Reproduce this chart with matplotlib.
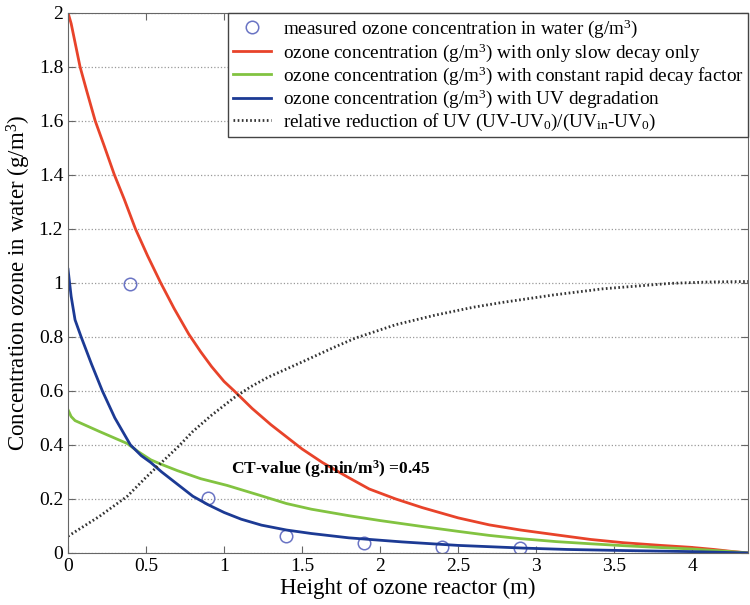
import numpy as np
import matplotlib
matplotlib.use('Agg')
import matplotlib.pyplot as plt

plt.rcParams['font.family'] = ['Liberation Serif', 'DejaVu Serif']
plt.rcParams['mathtext.fontset'] = 'custom'
plt.rcParams['mathtext.rm'] = 'Liberation Serif'
plt.rcParams['mathtext.it'] = 'Liberation Serif:italic'
plt.rcParams['mathtext.bf'] = 'Liberation Serif:bold'

# measured ozone concentration (g/m3)
meas_x = [0.4, 0.9, 1.4, 1.9, 2.4, 2.9]
meas_y = [0.995, 0.205, 0.063, 0.037, 0.023, 0.02]

# slow decay only
red_x = [0, 0.02, 0.045, 0.077, 0.12, 0.174, 0.23, 0.297, 0.36, 0.432, 0.51,
         0.594, 0.68, 0.774, 0.85, 0.92, 1.0, 1.065, 1.18, 1.3, 1.4, 1.5,
         1.63, 1.78, 1.93, 2.1, 2.27, 2.5, 2.7, 2.9, 3.13, 3.35, 3.56, 3.8,
         3.99, 4.14, 4.25, 4.36]
red_y = [2.0, 1.96, 1.89, 1.8, 1.71, 1.6, 1.51, 1.4, 1.31, 1.2, 1.1,
         1.0, 0.905, 0.81, 0.745, 0.69, 0.635, 0.6, 0.535, 0.475, 0.43,
         0.385, 0.335, 0.285, 0.237, 0.2, 0.168, 0.13, 0.104, 0.085, 0.067,
         0.05, 0.038, 0.028, 0.021, 0.013, 0.006, 0.0]

# constant rapid decay factor
green_x = [0, 0.02, 0.045, 0.2, 0.38, 0.45, 0.53, 0.59, 0.7, 0.85, 1.02,
           1.22, 1.4, 1.56, 1.8, 2.0, 2.27, 2.5, 2.7, 2.9, 3.13, 3.35, 3.56,
           3.8, 3.99, 4.2, 4.36]
green_y = [0.53, 0.505, 0.49, 0.45, 0.405, 0.375, 0.345, 0.33, 0.305, 0.275,
           0.25, 0.215, 0.183, 0.162, 0.138, 0.12, 0.098, 0.08, 0.065, 0.053,
           0.042, 0.034, 0.027, 0.02, 0.015, 0.007, 0.0]

# UV degradation
blue_x = [0, 0.01, 0.02, 0.045, 0.084, 0.15, 0.22, 0.3, 0.4, 0.47, 0.53,
          0.6, 0.7, 0.8, 0.9, 1.0, 1.11, 1.24, 1.4, 1.56, 1.8, 2.14, 2.5,
          2.92, 3.2, 3.56, 4.0, 4.36]
blue_y = [1.05, 1.0, 0.95, 0.863, 0.8, 0.7, 0.6, 0.5, 0.4, 0.36, 0.335,
          0.3, 0.255, 0.21, 0.178, 0.15, 0.125, 0.103, 0.085, 0.072, 0.056,
          0.041, 0.028, 0.018, 0.013, 0.009, 0.005, 0.0]

# relative reduction of UV
uv_x = [0, 0.2, 0.38, 0.5, 0.59, 0.7, 0.8, 0.92, 1.065, 1.17, 1.28, 1.5,
        1.7, 1.84, 2.1, 2.35, 2.6, 2.79, 3.11, 3.43, 3.86, 4.1, 4.36]
uv_y = [0.062, 0.135, 0.21, 0.28, 0.33, 0.39, 0.45, 0.51, 0.575, 0.615,
        0.65, 0.707, 0.76, 0.795, 0.845, 0.88, 0.91, 0.928, 0.955, 0.978,
        0.998, 1.003, 1.005]

fig = plt.figure(figsize=(7.5, 6.05), dpi=100)
ax = fig.add_axes([0.0907, 0.086, 0.907, 0.893])

ax.plot(meas_x, meas_y, 'o', mfc='none', mec='#6a74c4', ms=9, mew=1.1,
        label='measured ozone concentration in water (g/m$^3$)')
ax.plot(red_x, red_y, color='#e8432a', lw=2,
        label='ozone concentration (g/m$^3$) with only slow decay only')
ax.plot(green_x, green_y, color='#82c341', lw=2,
        label='ozone concentration (g/m$^3$) with constant rapid decay factor')
ax.plot(blue_x, blue_y, color='#1c3a94', lw=2,
        label='ozone concentration (g/m$^3$) with UV degradation')
ax.plot(uv_x, uv_y, color='#333333', lw=2, ls=(0, (0.6, 0.9)),
        label='relative reduction of UV (UV-UV$_0$)/(UV$_\\mathrm{in}$-UV$_0$)')

ax.text(1.045, 0.31, 'CT-value (g.min/m$^\\mathbf{3}$) =0.45',
        fontsize=12.5, fontweight='bold', va='center')

ax.set_xlim(0, 4.36)
ax.set_ylim(0, 2)
ax.set_xticks(np.arange(0, 4.1, 0.5))
ax.set_xticklabels(['0', '0.5', '1', '1.5', '2', '2.5', '3', '3.5', '4'])
ax.set_yticks(np.arange(0, 2.01, 0.2))
ax.set_yticklabels(['0', '0.2', '0.4', '0.6', '0.8', '1', '1.2', '1.4', '1.6',
                    '1.8', '2'])
ax.tick_params(direction='in', top=True, right=True, labelsize=14, length=5,
               color='#666666')
ax.yaxis.grid(True, ls=':', color='#999999', lw=0.9)
for s in ax.spines.values():
    s.set_color('#666666')

ax.set_xlabel('Height of ozone reactor (m)', fontsize=16.5, labelpad=2)
ax.set_ylabel('Concentration ozone in water (g/m$^3$)', fontsize=16.5,
              labelpad=4)

leg = ax.legend(loc='upper right', borderaxespad=0, fontsize=13.8,
                fancybox=False, framealpha=1, edgecolor='#444444',
                handlelength=2.0, handletextpad=0.6, labelspacing=0.05,
                borderpad=0.25)
leg.get_frame().set_linewidth(1.0)

plt.savefig('out.png', dpi=100)
